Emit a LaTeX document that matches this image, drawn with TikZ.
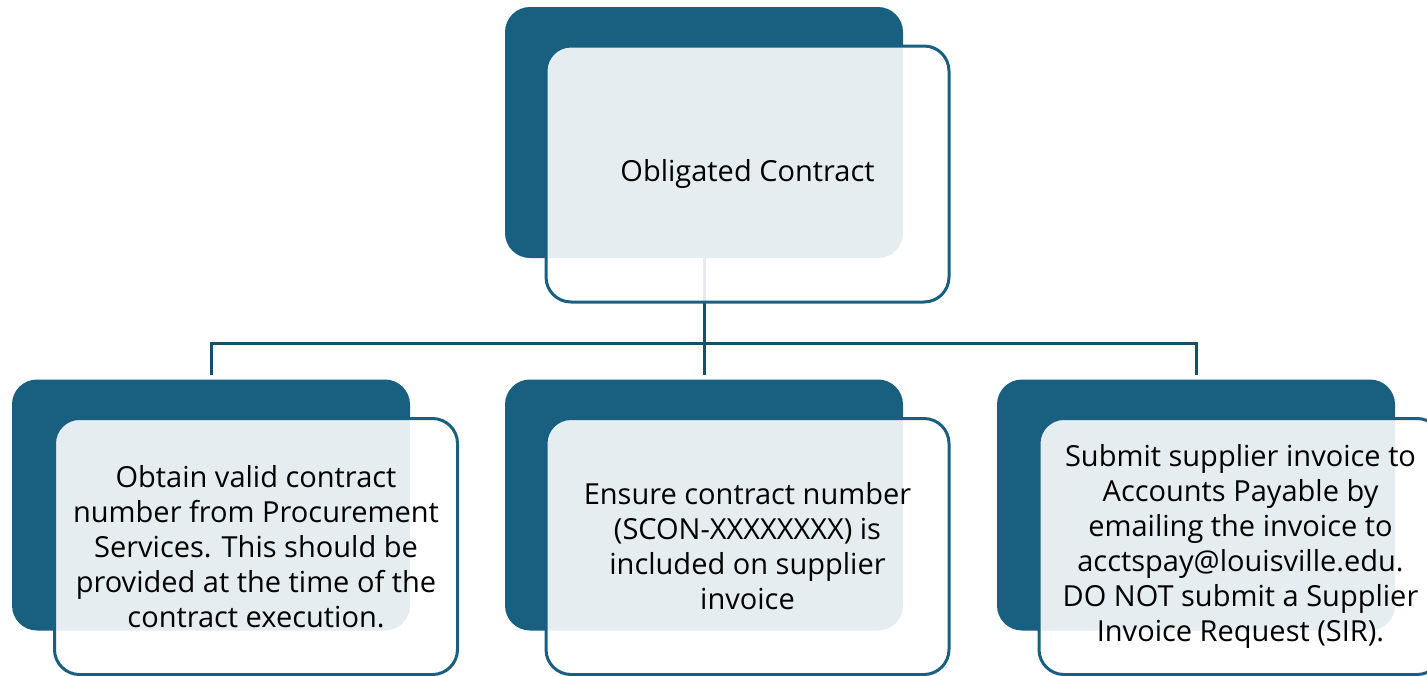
\documentclass[tikz,border=0pt]{standalone}
\usepackage{fontspec}
\setmainfont{Open Sans}
\definecolor{dk}{RGB}{24,95,128}
\definecolor{ln}{RGB}{20,80,106}
\begin{document}
\begin{tikzpicture}[x=1pt,y=-1pt,
  backbox/.style={fill=dk, rounded corners=25pt, minimum width=398pt, minimum height=251pt, inner sep=0pt},
  frontbox/.style={fill=white, fill opacity=0.89, text opacity=1, draw=dk, draw opacity=1, line width=3pt,
    rounded corners=25pt, minimum width=403pt, minimum height=256pt, inner sep=0pt,
    align=center, font=\fontsize{29}{35}\selectfont},
  conn/.style={draw=ln, line width=3pt}]
\useasboundingbox (0,0) rectangle (1427,675);
\clip (0,0) rectangle (1427,675);
% back boxes
\node[backbox] (b0) at (704,132.5) {};
\node[backbox] (b1) at (211,505) {};
\node[backbox] (b2) at (704,505) {};
\node[backbox] (b3) at (1196,505) {};
% connectors
\coordinate (h) at (0,343);
\coordinate (e1) at (211,375);
\coordinate (e2) at (704,375);
\coordinate (e3) at (1196,375);
\draw[conn] (b0.south) -- (e2);
\draw[conn] (e1) -- (e1 |- h) -- (e3 |- h) -- (e3);
% front boxes
\node[frontbox] (f0) at (747.5,174) {Obligated Contract};
\node[frontbox] (f1) at (256,546.5) {Obtain valid contract\\number from Procurement\\Services. This should be\\provided at the time of the\\contract execution.};
\node[frontbox] (f2) at (747.5,546.5) {Ensure contract number\\(SCON-XXXXXXXX) is\\included on supplier\\invoice};
\node[frontbox] (f3) at (1240.5,546.5) {Submit supplier invoice to\\Accounts Payable by\\emailing the invoice to\\acctspay@louisville.edu.\\DO NOT submit a Supplier\\Invoice Request (SIR).};
\end{tikzpicture}
\end{document}
